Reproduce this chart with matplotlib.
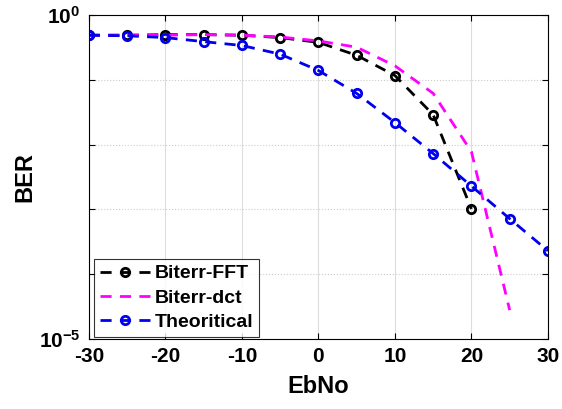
import matplotlib.pyplot as plt

plt.rcParams['font.family'] = ['Liberation Sans', 'DejaVu Sans']
plt.rcParams['font.weight'] = 'bold'
plt.rcParams['mathtext.fontset'] = 'custom'
plt.rcParams['mathtext.rm'] = 'Liberation Sans:bold'
plt.rcParams['mathtext.default'] = 'rm'
plt.rcParams['axes.unicode_minus'] = False

# Eb/No values (dB)
ebno = [-30, -25, -20, -15, -10, -5, 0, 5, 10, 15, 20, 25, 30]

# BER
ber_fft = [0.49, 0.49, 0.50, 0.50, 0.49, 0.45, 0.38, 0.24, 0.117, 0.029, 0.00102]
ber_dct = [0.49, 0.49, 0.49, 0.50, 0.49, 0.46, 0.40, 0.32, 0.165, 0.062, 0.0078, 2.8e-5]
ber_theory = [0.49, 0.48, 0.45, 0.39, 0.34, 0.25, 0.14, 0.062, 0.022, 0.0073,
              0.0023, 7.2e-4, 2.3e-4]

fig = plt.figure(figsize=(5.62, 4.09), dpi=100)
ax = fig.add_axes([0.158, 0.171, 0.817, 0.792])

ax.plot(ebno[:len(ber_fft)], ber_fft, '--o', color='black', lw=2, ms=6,
        mfc='none', mew=2, dashes=(4, 3), label='Biterr-FFT')
ax.plot(ebno[:len(ber_dct)], ber_dct, '--', color='#ff00ff', lw=2,
        dashes=(4, 3), label='Biterr-dct')
ax.plot(ebno, ber_theory, '--o', color='#0000ee', lw=2, ms=6,
        mfc='none', mew=2, dashes=(4, 3), label='Theoritical')

ax.set_yscale('log')
ax.set_xlim(-30, 30)
ax.set_ylim(1e-5, 1)
ax.set_xticks(range(-30, 31, 10))
ax.set_yticks([1e-5, 1e-4, 1e-3, 1e-2, 1e-1, 1])
ax.set_yticklabels([r'$10^{-5}$', '', '', '', '', r'$10^{0}$'])
ax.minorticks_off()
ax.tick_params(direction='in', length=4, width=0.8, labelsize=15,
               top=True, right=True, pad=6)
ax.grid(True, axis='x', color='#dddddd', lw=0.8)
ax.grid(True, axis='y', color='#cccccc', lw=0.8, ls=':')

ax.set_xlabel('EbNo', fontsize=17, fontweight='bold', labelpad=6)
ax.set_ylabel('BER', fontsize=17, fontweight='bold', labelpad=2)

leg = ax.legend(loc='lower left', fontsize=14, frameon=True, fancybox=False,
                edgecolor='black', borderpad=0.3, handlelength=2.6,
                handletextpad=0.2, labelspacing=0.35, borderaxespad=0,
                bbox_to_anchor=(0.012, 0.006))
leg.get_frame().set_linewidth(0.8)

fig.savefig('out.png', dpi=100)
